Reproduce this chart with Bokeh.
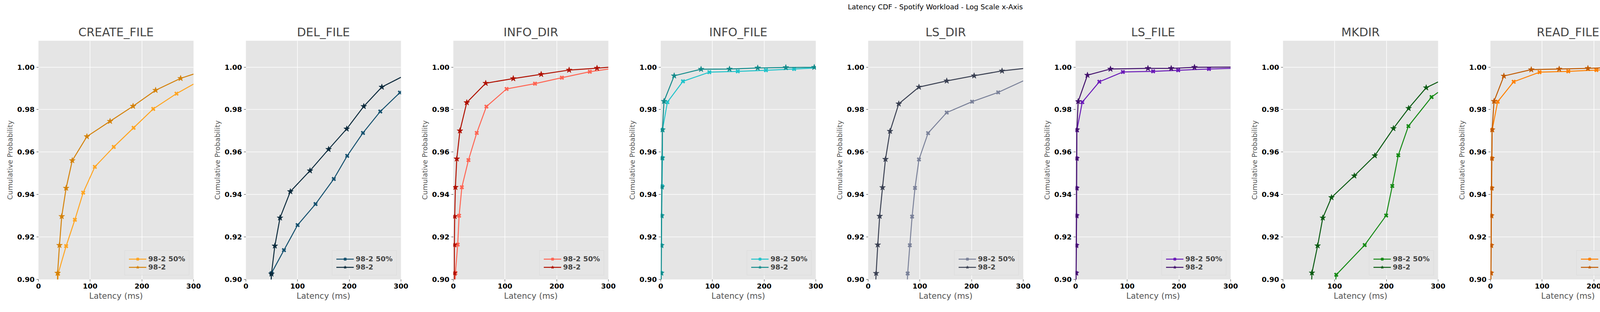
from bokeh.plotting import figure
from bokeh.models import Div, Legend, LegendItem, FixedTicker, NumeralTickFormatter, Range1d
from bokeh.layouts import column, row
from bokeh.embed import file_html
from bokeh.resources import INLINE

# operation names, one panel each
ops = ["CREATE_FILE", "DEL_FILE", "INFO_DIR", "INFO_FILE", "LS_DIR",
       "LS_FILE", "MKDIR", "READ_FILE", "RENAME_FILE"]

# latency (ms) / cumulative probability
# first point sits just below the view, last point is the curve end (no marker)
create_50_x = [36, 38, 53.5, 70.4, 86.5, 109, 145.6, 184, 222, 267, 300]
create_50_y = [0.89, 0.9027, 0.9157, 0.9281, 0.9409, 0.9530, 0.9624, 0.9714, 0.9803, 0.9875, 0.992]
create_x = [36, 37, 40.6, 45, 53.5, 65.4, 93.7, 138.5, 183, 226.6, 275, 300]
create_y = [0.89, 0.9030, 0.9161, 0.9297, 0.9430, 0.9560, 0.9673, 0.9745, 0.9816, 0.9891, 0.9947, 0.9967]

del_50_x = [47, 49.4, 73.6, 100, 134.7, 170, 196, 226.5, 260, 298, 300]
del_50_y = [0.89, 0.9029, 0.9138, 0.9256, 0.9355, 0.9473, 0.9582, 0.9690, 0.9791, 0.9880, 0.9882]
del_x = [47, 49.4, 56, 66, 86, 124, 160, 195, 228, 263, 300]
del_y = [0.89, 0.9026, 0.9158, 0.9290, 0.9414, 0.9512, 0.9613, 0.9709, 0.9815, 0.9906, 0.9952]

idir_50_x = [3, 4, 8.5, 11.2, 16.5, 29.3, 45.3, 64, 103, 158, 210, 264, 300]
idir_50_y = [0.89, 0.903, 0.9164, 0.930, 0.9434, 0.9562, 0.969, 0.9814, 0.9897, 0.9922, 0.995, 0.9978, 0.9991]
idir_x = [1.5, 2, 2, 2.7, 4, 6.7, 12.8, 26, 62.7, 116, 170, 224, 278, 300]
idir_y = [0.89, 0.903, 0.9163, 0.9297, 0.9434, 0.9568, 0.970, 0.9833, 0.9924, 0.9946, 0.9966, 0.9986, 0.9995, 0.9999]

ifile_50_x = [0.5, 1, 1.3, 1.8, 2.5, 3.3, 3.3, 12.9, 43, 94, 149, 203.5, 258, 300]
ifile_50_y = [0.89, 0.903, 0.916, 0.930, 0.9439, 0.9572, 0.9704, 0.9835, 0.9933, 0.9976, 0.998, 0.9985, 0.9991, 0.9996]
ifile_x = [0.5, 1, 1.2, 1.5, 2, 2.5, 3.3, 6.3, 26, 78, 133, 187.6, 242, 297, 300]
ifile_y = [0.89, 0.903, 0.916, 0.930, 0.9436, 0.9572, 0.9705, 0.9839, 0.9959, 0.999, 0.9991, 0.9996, 0.9998, 0.9999, 1.0]

lsdir_50_x = [74, 76.4, 80.6, 85, 90.6, 98.3, 115.9, 152, 201, 251.5, 300]
lsdir_50_y = [0.89, 0.9028, 0.9161, 0.9296, 0.9431, 0.9565, 0.9689, 0.9786, 0.9837, 0.9881, 0.9935]
lsdir_x = [13, 15.4, 18.6, 22.3, 27.8, 33.5, 42.3, 59.2, 98.3, 152, 205, 259, 300]
lsdir_y = [0.89, 0.9029, 0.9163, 0.9298, 0.9433, 0.9566, 0.9698, 0.9827, 0.9906, 0.9935, 0.9959, 0.9982, 0.9993]

lsfile_50_x = [0.5, 1, 1.5, 2, 2, 2.2, 2.5, 13, 46, 91.4, 150, 198.5, 258, 300]
lsfile_50_y = [0.89, 0.903, 0.916, 0.930, 0.943, 0.957, 0.9703, 0.9835, 0.9931, 0.9977, 0.998, 0.9985, 0.9991, 0.9994]
lsfile_x = [0.5, 1, 1.3, 1.6, 1.8, 2, 2.5, 5, 23, 67.5, 140, 185, 230, 300]
lsfile_y = [0.89, 0.903, 0.916, 0.930, 0.943, 0.957, 0.9705, 0.9838, 0.9962, 0.9991, 0.9994, 0.9994, 0.9999, 1.0]

mkdir_50_x = [98, 103, 158, 199.5, 211.4, 223, 242.6, 287.4, 300]
mkdir_50_y = [0.89, 0.9022, 0.9162, 0.9301, 0.944, 0.9585, 0.9722, 0.9859, 0.9881]
mkdir_x = [54, 56, 67, 77, 93.8, 138, 177.6, 213.6, 243, 277, 300]
mkdir_y = [0.89, 0.9031, 0.9159, 0.9290, 0.9386, 0.9488, 0.9583, 0.9711, 0.9806, 0.9903, 0.9930]

read_50_x = [0.5, 1, 1.3, 1.8, 2.3, 2.8, 3.3, 14, 45, 95, 150.6, 205, 259.5, 300]
read_50_y = [0.89, 0.903, 0.916, 0.930, 0.943, 0.957, 0.9704, 0.9837, 0.9931, 0.9976, 0.998, 0.9986, 0.9991, 0.9997]
read_x = [0.5, 1, 1.3, 1.6, 2, 2.5, 3.3, 7, 26, 79, 133, 188.6, 243.5, 298, 300]
read_y = [0.89, 0.903, 0.916, 0.930, 0.943, 0.957, 0.9705, 0.9839, 0.9958, 0.9988, 0.9991, 0.9994, 0.9999, 1.0, 1.0]

rename_50_x = [54, 56, 82, 111.4, 140.5, 170, 198, 223, 254, 292.7, 300]
rename_50_y = [0.89, 0.9019, 0.9139, 0.9247, 0.9355, 0.947, 0.9585, 0.9697, 0.9801, 0.9886, 0.9892]
rename_x = [52, 53, 57.7, 68.7, 87.6, 120.7, 157, 190.6, 226, 266.5, 300]
rename_y = [0.89, 0.9025, 0.9159, 0.9293, 0.9415, 0.952, 0.9617, 0.9716, 0.9815, 0.9901, 0.995]

series = {
    "CREATE_FILE": (create_50_x, create_50_y, create_x, create_y),
    "DEL_FILE": (del_50_x, del_50_y, del_x, del_y),
    "INFO_DIR": (idir_50_x, idir_50_y, idir_x, idir_y),
    "INFO_FILE": (ifile_50_x, ifile_50_y, ifile_x, ifile_y),
    "LS_DIR": (lsdir_50_x, lsdir_50_y, lsdir_x, lsdir_y),
    "LS_FILE": (lsfile_50_x, lsfile_50_y, lsfile_x, lsfile_y),
    "MKDIR": (mkdir_50_x, mkdir_50_y, mkdir_x, mkdir_y),
    "READ_FILE": (read_50_x, read_50_y, read_x, read_y),
    "RENAME_FILE": (rename_50_x, rename_50_y, rename_x, rename_y),
}

# (98-2 50%, 98-2)
colors = {
    "CREATE_FILE": ("#ffa521", "#d4820a"),
    "DEL_FILE": ("#14506e", "#0b2a3c"),
    "INFO_DIR": ("#ff6452", "#b01000"),
    "INFO_FILE": ("#1fc3ca", "#128a8a"),
    "LS_DIR": ("#7a8199", "#3a4052"),
    "LS_FILE": ("#6a1ab8", "#42106c"),
    "MKDIR": ("#148a14", "#0a5a12"),
    "READ_FILE": ("#ff8000", "#c05a00"),
    "RENAME_FILE": ("#ff10d0", "#c0009a"),
}

labels = ["98-2 50%", "98-2"]


def make_panel(op):
    x50, y50, x, y = series[op]
    c50, c = colors[op]
    p = figure(width=531, height=750, min_border_left=98, min_border_right=36,
               min_border_top=66, min_border_bottom=72,
               x_range=Range1d(0, 300), y_range=Range1d(0.90, 1.0124),
               output_backend="svg", toolbar_location=None, title=op)
    p.title.align = "center"
    p.title.text_font = "DejaVu Sans"
    p.title.text_font_size = "30px"
    p.title.text_font_style = "normal"
    p.background_fill_color = "#e5e5e5"
    p.outline_line_color = None
    p.grid.grid_line_color = "white"
    p.grid.grid_line_width = 1.5
    p.xaxis.ticker = FixedTicker(ticks=[0, 100, 200, 300])
    p.yaxis.ticker = FixedTicker(ticks=[0.90, 0.92, 0.94, 0.96, 0.98, 1.00])
    p.yaxis.formatter = NumeralTickFormatter(format="0.00")
    for ax in (p.xaxis, p.yaxis):
        ax.axis_line_color = None
        ax.major_tick_line_color = "#333333"
        ax.major_tick_out = 5
        ax.major_tick_in = 0
        ax.minor_tick_line_color = None
        ax.major_label_text_font = "DejaVu Sans"
        ax.major_label_text_font_size = "18px"
        ax.major_label_text_font_style = "bold"
        ax.major_label_text_color = "black"
        ax.axis_label_text_font = "DejaVu Sans"
        ax.axis_label_text_font_style = "normal"
        ax.axis_label_text_color = "#555555"
    p.xaxis.axis_label = "Latency (ms)"
    p.xaxis.axis_label_text_font_size = "21px"
    p.xaxis.axis_label_standoff = 4
    p.yaxis.axis_label = "Cumulative Probability"
    p.yaxis.axis_label_text_font_size = "18px"

    l1 = p.line(x50, y50, color=c50, line_width=2.5)
    m1 = p.scatter(x50[1:-1], y50[1:-1], marker="x", size=12, line_width=4, color=c50)
    l2 = p.line(x, y, color=c, line_width=2.5)
    m2 = p.scatter(x[1:-1], y[1:-1], marker="star", size=16, color=c)

    legend = Legend(items=[LegendItem(label=labels[0], renderers=[l1, m1]),
                           LegendItem(label=labels[1], renderers=[l2, m2])],
                    location="bottom_right")
    legend.label_text_font = "DejaVu Sans"
    legend.label_text_font_size = "18px"
    legend.label_text_font_style = "bold"
    legend.background_fill_color = "#e5e5e5"
    legend.background_fill_alpha = 0.8
    legend.border_line_color = "#d0d0d0"
    legend.glyph_width = 45
    legend.spacing = 0
    legend.margin = 10
    p.add_layout(legend)
    return p


panels = [make_panel(op) for op in ops]
title = Div(text="Latency CDF - Spotify Workload - Log Scale x-Axis", width=4779, height=28,
            styles={"text-align": "center", "font-family": "DejaVu Sans", "font-size": "18px",
                    "color": "black"})
page = column(title, row(*panels, spacing=0), spacing=0, width=4779)

open("out.html", "w").write(file_html(page, INLINE))
